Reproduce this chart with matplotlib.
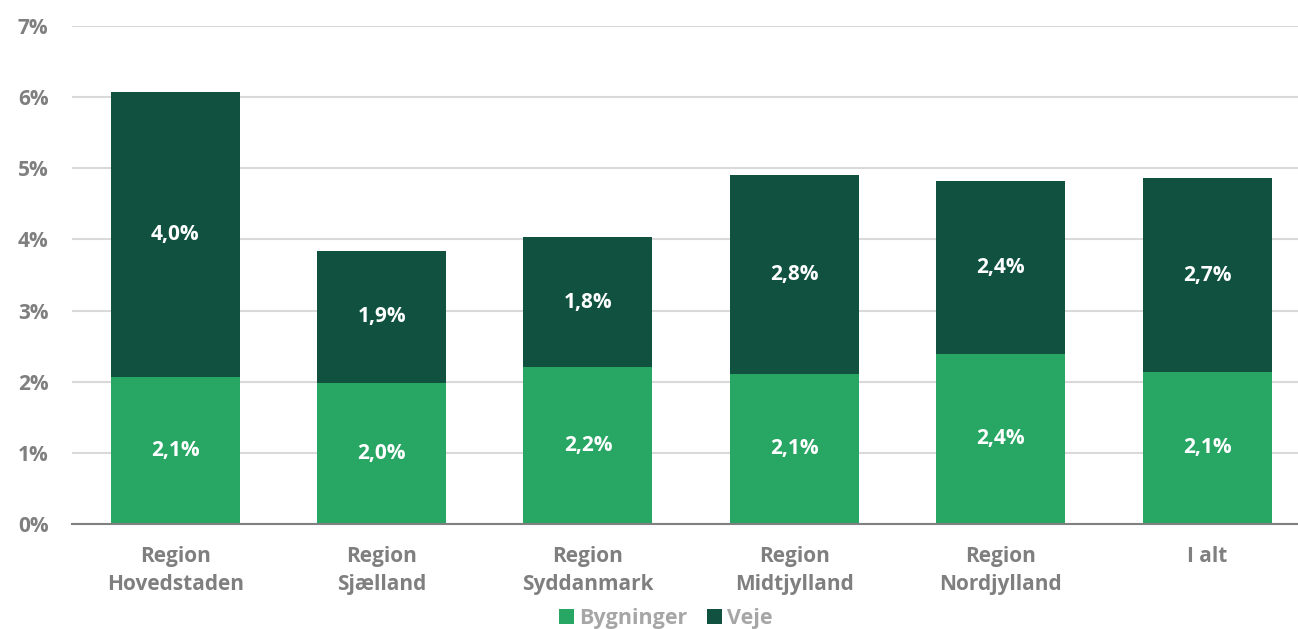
import matplotlib.pyplot as plt
import numpy as np

categories = ["Region\nHovedstaden", "Region\nSjælland", "Region\nSyddanmark",
              "Region\nMidtjylland", "Region\nNordjylland", "I alt"]
bygninger = [2.06, 1.98, 2.21, 2.11, 2.39, 2.14]
veje = [4.01, 1.86, 1.82, 2.80, 2.43, 2.72]
bygninger_labels = ["2,1%", "2,0%", "2,2%", "2,1%", "2,4%", "2,1%"]
veje_labels = ["4,0%", "1,9%", "1,8%", "2,8%", "2,4%", "2,7%"]
yticks = [0, 1, 2, 3, 4, 5, 6, 7]

light = "#27a664"
dark = "#10523f"

plt.rcParams["font.family"] = ["Open Sans", "DejaVu Sans"]

fig = plt.figure(figsize=(12.98, 6.29), dpi=100)
ax = fig.add_axes([72 / 1298, 105 / 629, 1 - 72 / 1298, (524 - 26) / 629])

x = np.arange(len(categories))
w = 0.625
b1 = ax.bar(x, bygninger, w, color=light, label="Bygninger", zorder=3)
b2 = ax.bar(x, veje, w, bottom=bygninger, color=dark, label="Veje", zorder=3)

for i in range(len(x)):
    ax.text(x[i], bygninger[i] / 2, bygninger_labels[i], ha="center", va="center",
            color="white", fontsize=15, fontweight="bold", zorder=4)
    ax.text(x[i], bygninger[i] + veje[i] / 2, veje_labels[i], ha="center", va="center",
            color="white", fontsize=15, fontweight="bold", zorder=4)

ax.set_xlim(-0.5, 5.44)
ax.set_ylim(0, 7)
ax.set_yticks(yticks)
ax.set_yticklabels([f"{t}%" for t in yticks])
ax.set_xticks(x)
ax.set_xticklabels(categories, linespacing=1.45)
ax.grid(axis="y", color="#d9d9d9", linewidth=1.5, zorder=0)
for s in ["top", "right", "left"]:
    ax.spines[s].set_visible(False)
ax.spines["bottom"].set_color("#808080")
ax.spines["bottom"].set_linewidth(1.5)
ax.spines["bottom"].set_zorder(5)
ax.tick_params(axis="both", length=0, colors="#7f7f7f")
ax.tick_params(axis="y", pad=17)
ax.tick_params(axis="x", pad=16)
for lbl in ax.get_xticklabels() + ax.get_yticklabels():
    lbl.set_fontweight("bold")
    lbl.set_fontsize(15)

leg = fig.legend(handles=[b1, b2], loc="center", bbox_to_anchor=(0.513, 0.016),
                 ncol=2, frameon=False, fontsize=15.5, handlelength=0.7,
                 handleheight=0.7, handletextpad=0.25, columnspacing=0.9)
for t in leg.get_texts():
    t.set_color("#a6a6a6")
    t.set_fontweight("bold")

fig.savefig("out.png", dpi=100)
